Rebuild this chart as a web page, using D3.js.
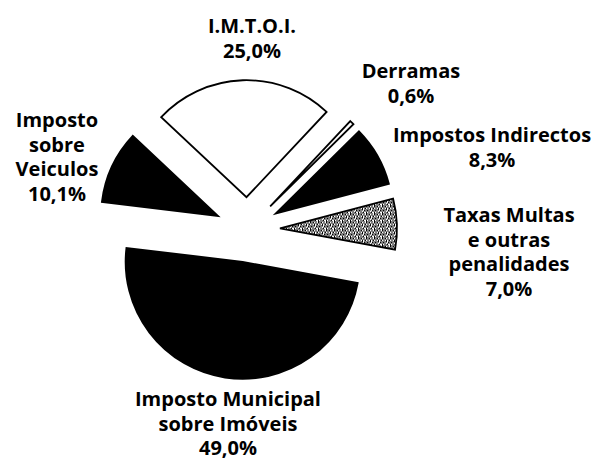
<!DOCTYPE html>
<html>
<head>
<meta charset="utf-8">
<script src="https://cdn.jsdelivr.net/npm/d3@7"></script>
<style>
  body { margin: 0; background: #fff; }
  svg text { font-family: "Open Sans", sans-serif; font-weight: bold; font-size: 20px; fill: #000; }
</style>
</head>
<body>
<svg id="chart" width="596" height="461"></svg>
<script>
// data, clockwise from the I.M.T.O.I. slice
var categories = ["I.M.T.O.I.", "Derramas", "Impostos Indirectos",
                  "Taxas Multas e outras penalidades",
                  "Imposto Municipal sobre Imóveis", "Imposto sobre Veiculos"];
var values = [25.0, 0.6, 8.3, 7.0, 49.0, 10.1];
var labelLines = [
  ["I.M.T.O.I."],
  ["Derramas"],
  ["Impostos Indirectos"],
  ["Taxas Multas", "e outras", "penalidades"],
  ["Imposto Municipal", "sobre Imóveis"],
  ["Imposto", "sobre", "Veiculos"]
];

// layout
var cx = 247.5, cy = 229.7, radius = 117, explode = 32.5;
var fills = ["#fff", "#fff", "#000", "url(#speckle)", "#000", "#000"];
// label anchor: centre x, first baseline y
var labelAt = [[252, 33], [411, 78], [492, 142], [509, 222], [228, 406], [57, 127]];
var lineGap = 24.5;

var svg = d3.select("#chart");

// speckled fill for the "Taxas" slice (8x8 tile, x = black pixel)
var tile = [
  "x.xx..x.",
  ".x..x.xx",
  "xx.x..x.",
  "..x.xx.x",
  "x.x..x..",
  ".xx.x.xx",
  "x...xx.x",
  ".x.x..x."
];
var pat = svg.append("defs").append("pattern")
    .attr("id", "speckle")
    .attr("patternUnits", "userSpaceOnUse")
    .attr("width", 8).attr("height", 8);
pat.append("rect").attr("width", 8).attr("height", 8).attr("fill", "#fff");
tile.forEach(function(row, y) {
  row.split("").forEach(function(c, x) {
    if (c === "x") pat.append("rect").attr("x", x).attr("y", y)
        .attr("width", 1).attr("height", 1).attr("fill", "#000");
  });
});

var start = -46.8 * Math.PI / 180;
var pie = d3.pie().sort(null).startAngle(start).endAngle(start + 2 * Math.PI);
var arc = d3.arc().innerRadius(0).outerRadius(radius);
var arcs = pie(values);

svg.append("g")
  .attr("transform", "translate(" + cx + "," + cy + ")")
  .selectAll("path")
  .data(arcs)
  .enter().append("path")
    .attr("transform", function(d) {
      var a = (d.startAngle + d.endAngle) / 2;
      return "translate(" + (Math.sin(a) * explode) + "," + (-Math.cos(a) * explode) + ")";
    })
    .attr("d", arc)
    .attr("fill", function(d, i) { return fills[i]; })
    .attr("stroke", "#000")
    .attr("stroke-width", 1.8)
    .attr("stroke-linejoin", "miter");

// labels: name lines then percentage
var fmt = function(v) { return d3.format(".1f")(v).replace(".", ",") + "%"; };

var labels = svg.append("g").selectAll("text")
  .data(arcs)
  .enter().append("text")
    .attr("text-anchor", "middle")
    .attr("x", function(d, i) { return labelAt[i][0]; })
    .attr("y", function(d, i) { return labelAt[i][1]; });

labels.each(function(d, i) {
  var t = d3.select(this);
  labelLines[i].concat([fmt(d.data)]).forEach(function(s, k) {
    t.append("tspan")
      .attr("x", labelAt[i][0])
      .attr("y", labelAt[i][1] + k * lineGap)
      .text(s);
  });
});
</script>
</body>
</html>
